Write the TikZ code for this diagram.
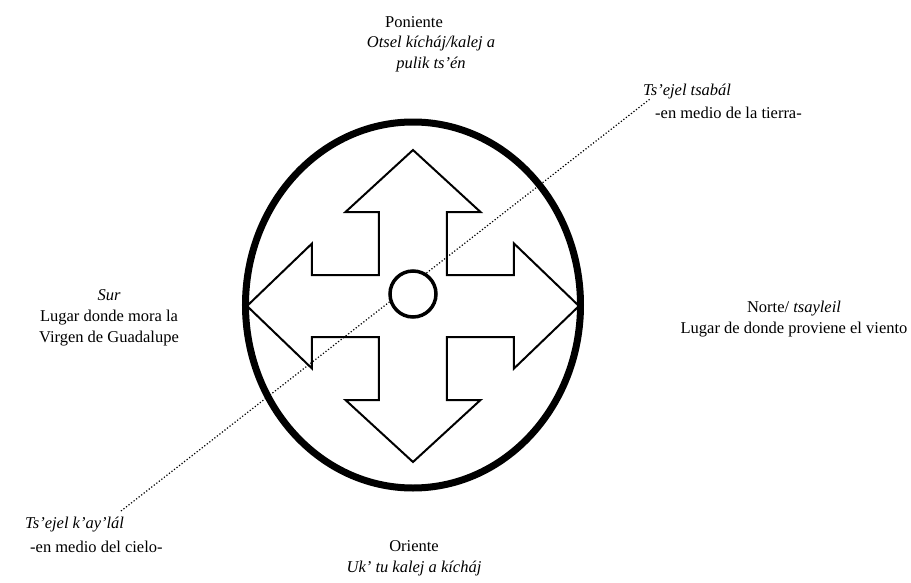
\documentclass[tikz,border=0pt]{standalone}
\usepackage{fontspec}
\setmainfont{Liberation Serif}
\usepackage{tikz}
\usetikzlibrary{positioning}

\begin{document}
\begin{tikzpicture}[
        x=1pt, y=1pt,
        label/.style={font=\fontsize{16.5}{21}\selectfont, inner sep=0pt, align=center},
        rim/.style={line width=7pt},
        cross/.style={line width=2pt, line join=miter},
        hub/.style={circle, draw=black, line width=3.5pt, minimum size=46pt, inner sep=0pt, fill=white},
        axis/.style={line width=1.2pt, dash pattern=on 1.2pt off 2pt}
    ]
        \useasboundingbox (-413, -276) rectangle (498, 306);

        % Outer ring
        \draw[rim] (0, 1) ellipse [x radius=167.5, y radius=183];

        % Four-way arrow
        \draw[cross] (0, 156) -- (67.5, 94) -- (34, 94) -- (34, 31) -- (101, 31) -- (101, 62.5)
            -- (166, 0) -- (101, -62.5) -- (101, -31) -- (34, -31) -- (34, -94) -- (67.5, -94)
            -- (0, -156) -- (-67.5, -94) -- (-34, -94) -- (-34, -31) -- (-101, -31) -- (-101, -62.5)
            -- (-166, 0) -- (-101, 62.5) -- (-101, 31) -- (-34, 31) -- (-34, 94) -- (-67.5, 94) -- cycle;

        % Axis between sky and earth
        \coordinate (skyend) at (-292, -205);
        \coordinate (earthend) at (237, 207);
        \draw[axis] (skyend) -- (earthend);

        % Centre
        \node[hub] (centre) at (0, 12) {};

        % Directions
        \node[label] (poniente) at (1, 284) {Poniente};
        \node[label, below=8pt of poniente.south, xshift=17pt] (otsel) {\textit{Otsel kícháj/kalej a}\\ \textit{pulik ts’én}};
        \node[label] (oriente) at (1, -252) {Oriente\\ \textit{Uk’ tu kalej a kícháj}};
        \node[label] (sur) at (-304, -12) {\textit{Sur}\\ Lugar donde mora la\\ Virgen de Guadalupe};
        \node[label] (norte) at (381, -13) {Norte/ \textit{tsayleil}\\ Lugar de donde proviene el viento};

        % Earth and sky
        \node[label, anchor=west] (tsabal) at (230, 214) {\textit{Ts’ejel tsabál}};
        \node[label, anchor=west] (tierra) at (242, 193) {-en medio de la tierra-};
        \node[label, anchor=west] (kaylal) at (-388, -219) {\textit{Ts’ejel k’ay’lál}};
        \node[label, anchor=west] (cielo) at (-383, -241) {-en medio del cielo-};
    \end{tikzpicture}
\end{document}
